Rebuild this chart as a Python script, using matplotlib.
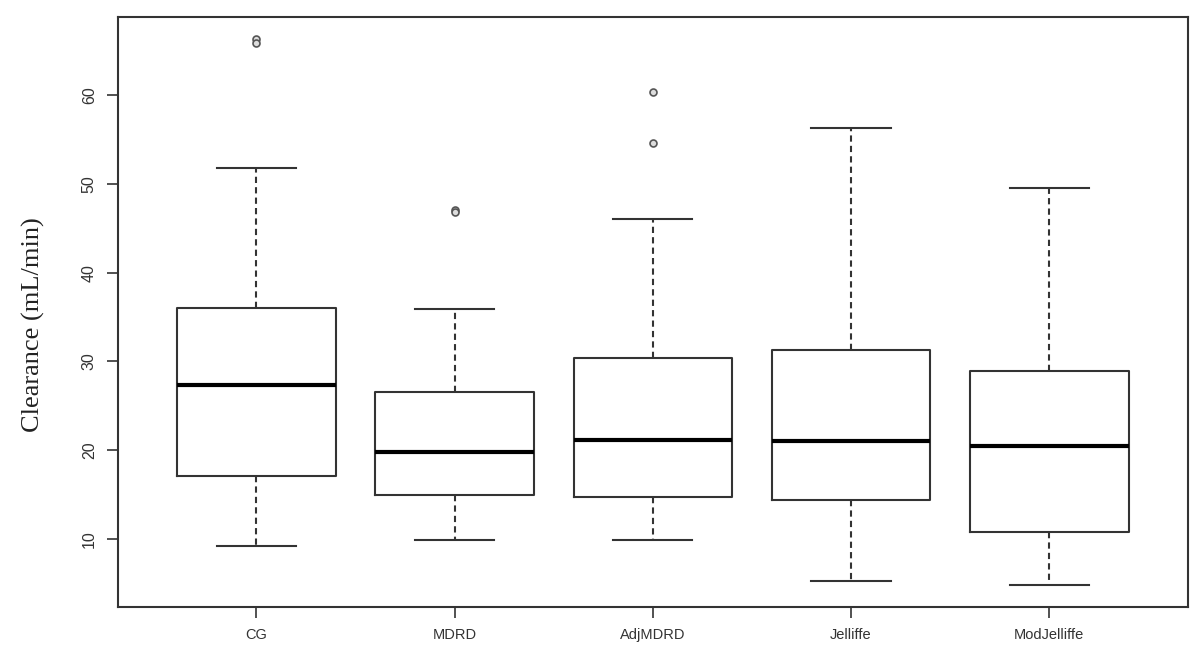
import matplotlib
matplotlib.use("Agg")
import matplotlib.pyplot as plt
import numpy as np

# valori (mL/min)
methods = ["CG", "MDRD", "AdjMDRD", "Jelliffe", "ModJelliffe"]
whisker_low = [9.2, 9.85, 9.85, 5.24, 4.82]
q1 = [17.1, 15.0, 14.76, 14.36, 10.82]
median = [27.3, 19.8, 21.2, 21.04, 20.47]
q3 = [36.0, 26.6, 30.35, 31.25, 28.9]
whisker_high = [51.8, 35.9, 46.0, 56.36, 49.5]
outliers = [[66.3, 65.9], [47.1, 46.8], [60.4, 54.6], [], []]

stats = []
for i, name in enumerate(methods):
    stats.append({
        "label": name,
        "whislo": whisker_low[i],
        "q1": q1[i],
        "med": median[i],
        "q3": q3[i],
        "whishi": whisker_high[i],
        "fliers": outliers[i],
    })

line_col = "#333333"

fig = plt.figure(figsize=(12, 6.6), dpi=100)
ax = fig.add_axes([0.098, 0.0808, 0.892, 0.8927])

ax.bxp(
    stats,
    positions=np.arange(1, len(methods) + 1),
    widths=0.8,
    capwidths=0.4,
    boxprops=dict(color=line_col, linewidth=1.5),
    medianprops=dict(color="black", linewidth=3),
    whiskerprops=dict(color=line_col, linewidth=1.5, linestyle=(0, (3, 2))),
    capprops=dict(color=line_col, linewidth=1.5),
    flierprops=dict(marker="o", markersize=5, markerfacecolor="#dddddd",
                    markeredgecolor="#555555", markeredgewidth=1.2),
)

# limiti come in R: +/- 4%
all_vals = whisker_low + whisker_high + [v for o in outliers for v in o]
lo, hi = min(all_vals), max(all_vals)
pad = 0.04 * (hi - lo)
ax.set_ylim(lo - pad, hi + pad)
ax.set_xlim(0.3, 5.7)

ax.set_yticks([10, 20, 30, 40, 50, 60])
ax.set_yticklabels(["10", "20", "30", "40", "50", "60"], rotation=90, va="center",
                   family="Liberation Sans", fontsize=11.5, color="#333333")
ax.set_xticklabels(methods, family="Liberation Sans", fontsize=10.5, color="#333333")
ax.tick_params(axis="both", length=8, width=1.2, color=line_col, pad=7)

for s in ax.spines.values():
    s.set_linewidth(1.5)
    s.set_color(line_col)

ax.set_ylabel("Clearance (mL/min)", family="Liberation Serif", fontsize=19,
              color="#222222")
ax.yaxis.set_label_coords(-0.068, 0.478)

fig.savefig("out.png", dpi=100)
